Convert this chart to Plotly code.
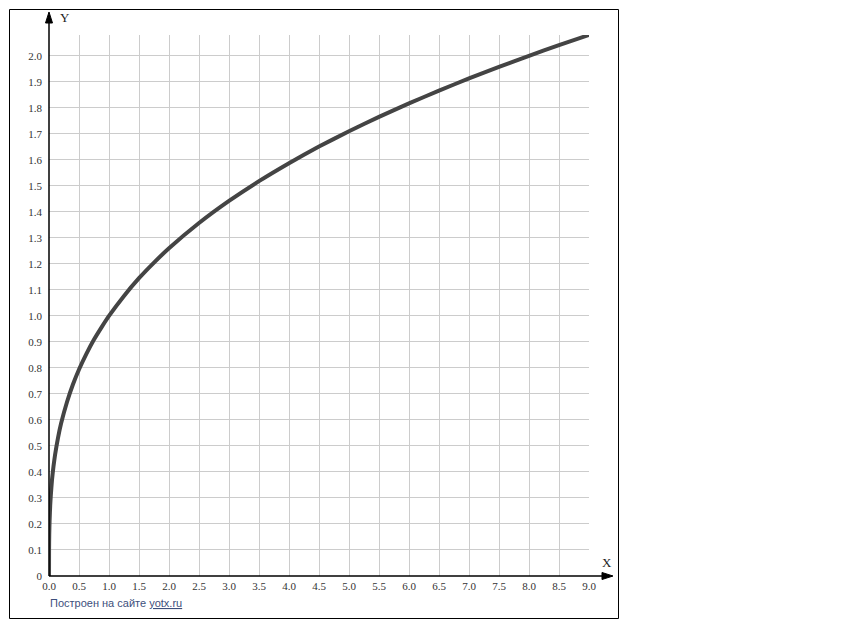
import plotly.graph_objects as go

# curve values
x_vals = [0, 0.001, 0.004, 0.01, 0.02, 0.03, 0.05, 0.075, 0.1, 0.15, 0.2, 0.3, 0.4, 0.5, 0.625, 0.75,
          0.875, 1.0, 1.25, 1.5, 1.75, 2.0, 2.5, 3.0, 3.5, 4.0, 4.5, 5.0, 5.5, 6.0, 6.5, 7.0, 7.5,
          8.0, 8.5, 9.0]
y_vals = [0, 0.10, 0.16, 0.215, 0.271, 0.31, 0.37, 0.422, 0.464, 0.531, 0.585, 0.669, 0.737, 0.794,
          0.855, 0.909, 0.956, 1.0, 1.077, 1.145, 1.205, 1.26, 1.357, 1.442, 1.518, 1.587, 1.651,
          1.71, 1.765, 1.817, 1.866, 1.913, 1.957, 2.0, 2.041, 2.08]

x_ticks = [i * 0.5 for i in range(19)]
x_ticktext = ["%.1f" % v for v in x_ticks]
y_ticks = [i / 10 for i in range(21)]
y_ticktext = ["0"] + ["%.1f" % v for v in y_ticks[1:]]

OFF = 8  # page body margin
W, H = 864 - OFF, 630 - OFF
# plot area in window pixels: x 49..589, y 35..576
L, R, T, B = 49 - OFF, 864 - 589, 35 - OFF, 630 - 576
pw, ph = W - L - R, H - T - B


def px(xp):
    return (xp - OFF - L) / pw


def py(yp):
    return (H - B - (yp - OFF)) / ph


fig = go.Figure()
fig.add_trace(go.Scatter(x=x_vals, y=y_vals, mode="lines",
                         line=dict(color="#444444", width=4, shape="spline", smoothing=0.5),
                         hoverinfo="skip", cliponaxis=False))

tickfont = dict(family="Liberation Serif, Times New Roman, serif", size=11, color="#333333")

shapes = [
    dict(type="rect", xref="paper", yref="paper", x0=px(9.5), x1=px(618.5), y0=py(618.5), y1=py(9.5),
         line=dict(color="black", width=1), layer="below"),
    dict(type="line", xref="paper", yref="paper", x0=px(49), x1=px(49), y0=py(576), y1=py(20),
         line=dict(color="black", width=1.5)),
    dict(type="path", xref="paper", yref="paper",
         path="M %f,%f L %f,%f L %f,%f Z" % (px(49), py(12), px(45.5), py(23), px(52.5), py(23)),
         fillcolor="black", line=dict(color="black", width=1)),
    dict(type="line", xref="paper", yref="paper", x0=px(49), x1=px(605), y0=py(576), y1=py(576),
         line=dict(color="black", width=1.5)),
    dict(type="path", xref="paper", yref="paper",
         path="M %f,%f L %f,%f L %f,%f Z" % (px(613), py(576), px(602), py(572.5), px(602), py(579.5)),
         fillcolor="black", line=dict(color="black", width=1)),
]

annotations = [
    dict(text="Y", xref="paper", yref="paper", x=px(58), y=py(17), xanchor="left", yanchor="middle",
         showarrow=False, font=dict(family="Liberation Serif, serif", size=13, color="#222")),
    dict(text="X", xref="paper", yref="paper", x=px(607), y=py(562), xanchor="center", yanchor="middle",
         showarrow=False, font=dict(family="Liberation Serif, serif", size=13, color="#222")),
    dict(text="Построен на сайте <u>yotx.ru</u>", xref="paper", yref="paper", x=px(48), y=py(603),
         xanchor="left", yanchor="middle", showarrow=False,
         font=dict(family="Liberation Sans, Arial, sans-serif", size=11, color="#3d4f7c")),
]

fig.update_layout(
    width=W, height=H, margin=dict(l=L, r=R, t=T, b=B, pad=0),
    paper_bgcolor="white", plot_bgcolor="white", showlegend=False,
    shapes=shapes, annotations=annotations,
    xaxis=dict(range=[0, 9], tickvals=x_ticks, ticktext=x_ticktext, showgrid=True, gridcolor="#cccccc",
               gridwidth=1, zeroline=False, showline=False, ticks="", tickfont=tickfont,
               ticklabelstandoff=2, fixedrange=True),
    yaxis=dict(range=[0, 2.08], tickvals=y_ticks, ticktext=y_ticktext, showgrid=True, gridcolor="#cccccc",
               gridwidth=1, zeroline=False, showline=False, ticks="", tickfont=tickfont,
               ticklabelstandoff=6, fixedrange=True),
)

fig.write_html("out.html")
